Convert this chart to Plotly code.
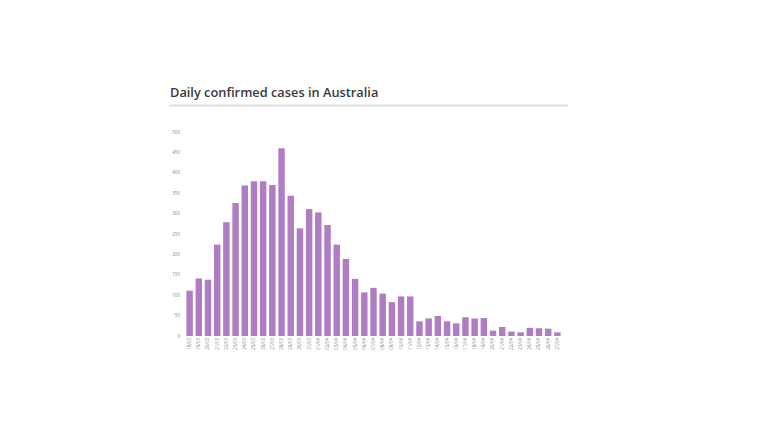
import plotly.graph_objects as go

# daily new cases, 18 March to 27 April
dates = [f'{d:02d}/03' for d in range(18, 32)] + [f'{d:02d}/04' for d in range(1, 28)]
cases = [
    111, 141, 138, 224, 279, 326, 369, 379, 379, 370,
    460, 344, 264, 311, 303, 272, 224, 189, 140, 107,
    118, 104, 83, 97, 97, 36, 43, 49, 36, 31,
    46, 43, 44, 13, 22, 11, 9, 20, 19, 18,
    9,
]
y_ticks = list(range(0, 501, 50))

BAR_COLOUR = '#b07cc3'
TEXT_COLOUR = '#888888'

# the page adds an 8px body margin, so everything is placed 8px up/left
fig = go.Figure()
fig.add_trace(go.Bar(
    x = dates,
    y = cases,
    marker = {'color': BAR_COLOUR, 'line': {'width': 0}},
))

fig.update_layout(
    width = 768,
    height = 448,
    margin = {'l': 177, 'r': 214, 't': 124, 'b': 120},
    paper_bgcolor = 'white',
    plot_bgcolor = 'white',
    bargap = 0.3,
    showlegend = False,
    font = {'family': 'Open Sans', 'color': TEXT_COLOUR, 'size': 5},
    title = {
        'text': 'Daily confirmed cases in Australia',
        'xref': 'container', 'yref': 'container',
        'x': 162 / 768, 'xanchor': 'left',
        'y': 1 - 85 / 448, 'yanchor': 'middle',
        'font': {'family': 'Open Sans', 'size': 12.8, 'color': '#3a3a3a', 'weight': 600},
    },
    shapes = [{
        'type': 'line', 'xref': 'paper', 'yref': 'paper',
        'x0': -0.041, 'x1': 1.015, 'y0': 1.13, 'y1': 1.13,
        'line': {'color': '#dddddd', 'width': 2},
    }],
)
fig.update_xaxes(
    type = 'category',
    tickangle = -90,
    showgrid = False,
    showline = False,
    ticks = '',
    tickfont = {'size': 4.5, 'color': TEXT_COLOUR},
)
fig.update_yaxes(
    range = [0, 500],
    tickvals = y_ticks,
    showgrid = False,
    zeroline = False,
    showline = False,
    ticks = '',
    tickfont = {'size': 4.5, 'color': TEXT_COLOUR},
    ticklabelstandoff = 4,
)

fig.write_html('out.html')
